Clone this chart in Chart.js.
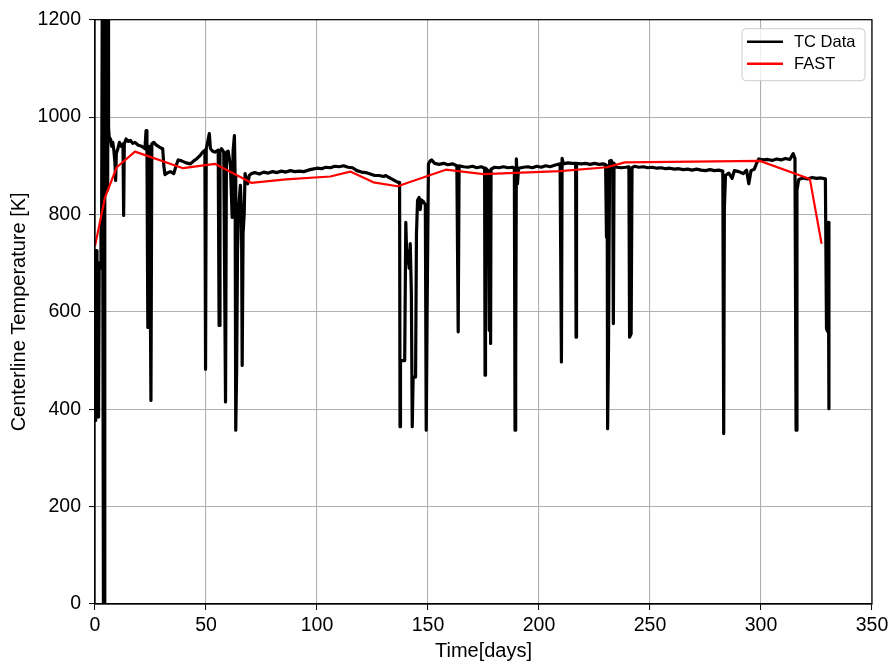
<!DOCTYPE html>
<html>
<head>
<meta charset="utf-8">
<script src="https://cdn.jsdelivr.net/npm/chart.js@4/dist/chart.umd.min.js"></script>
<style>
html,body{margin:0;padding:0;background:#fff;}
#wrap{width:893px;height:664px;}
</style>
</head>
<body>
<div id="wrap"><canvas id="c" width="893" height="664"></canvas></div>
<script>
const xTicks = [0, 50, 100, 150, 200, 250, 300, 350];
const yTicks = [0, 200, 400, 600, 800, 1000, 1200];

const tcDays = [0.0,0.3,0.6,0.9,1.2,1.6,1.9,2.3,2.7,3.0,3.3,3.6,3.8,4.2,4.4,4.8,5.1,5.4,5.7,5.9,6.1,6.4,7.0,7.5,8.0,8.5,9.0,9.3,9.6,10.3,11.0,11.8,12.6,12.9,13.2,14.0,15.0,16.0,17.0,18.0,19.5,21.0,22.5,23.0,23.4,23.8,24.1,24.5,25.2,25.6,26.5,27.5,28.5,29.5,30.5,31.0,31.5,32.5,34.0,35.5,36.5,37.5,39.0,41.0,43.0,44.5,46.0,47.5,48.5,49.5,49.8,50.1,50.8,51.5,52.0,53.0,54.0,55.5,55.9,56.3,57.0,58.0,58.8,59.2,60.0,61.0,61.8,62.2,62.8,63.1,63.4,63.8,64.2,64.8,65.5,66.0,66.3,66.7,67.2,67.6,68.3,68.8,69.5,70.5,72.0,74.0,76.0,78.0,80.0,82.0,84.0,86.0,88.0,90.0,92.0,94.0,96.0,98.0,100.0,102.0,104.0,106.0,108.0,110.0,112.0,114.0,116.0,118.0,120.0,122.0,124.0,126.0,128.0,130.0,131.0,132.0,134.0,136.5,137.2,137.4,137.6,139.5,140.0,140.5,141.0,141.5,142.0,142.5,142.9,143.3,144.4,144.8,145.3,146.0,146.5,147.0,148.0,148.8,149.2,149.6,150.2,151.0,151.6,153.0,155.0,157.0,159.0,161.0,163.0,163.6,164.0,166.0,168.0,170.0,172.0,174.0,175.5,175.7,175.9,177.0,177.6,178.0,178.2,178.4,180.0,182.0,184.0,186.0,188.0,188.9,189.2,189.5,189.8,190.3,190.8,193.0,195.0,197.0,199.0,201.0,203.0,205.0,207.0,209.5,210.1,210.4,211.0,213.0,215.0,216.5,216.7,216.9,219.0,221.0,223.0,225.0,227.0,229.0,230.0,230.4,230.7,230.9,231.3,231.8,232.5,233.2,233.5,233.8,235.0,237.0,239.0,240.5,240.8,241.5,241.9,243.0,245.0,247.0,249.0,251.0,253.0,255.0,257.0,259.0,261.0,263.0,265.0,267.0,269.0,271.0,273.0,275.0,277.0,279.0,281.0,282.8,283.2,283.5,284.0,285.5,287.0,288.0,290.0,292.0,293.5,294.5,295.5,297.0,298.0,299.0,301.0,303.0,305.0,307.0,309.0,311.0,313.0,314.5,315.3,315.8,316.2,317.0,319.0,321.0,323.0,325.0,327.0,329.0,329.5,330.0,330.3,330.6];
const tcTemps = [380,377,726,700,390,384,700,690,760,800,1300,1300,0,0,1300,1300,1090,1300,850,1300,980,958,955,940,948,932,905,870,925,935,948,940,945,798,945,955,950,952,946,948,942,940,935,972,935,568,930,940,418,945,948,943,940,937,935,900,882,885,888,884,900,912,910,906,904,910,915,922,928,932,482,935,950,966,935,930,928,932,572,930,935,928,415,928,930,900,794,930,962,880,357,480,726,820,860,800,490,761,800,884,870,863,880,884,886,883,887,885,888,886,889,887,890,888,889,888,891,893,895,894,897,896,899,898,900,897,896,890,887,886,883,880,880,878,880,877,872,866,866,364,500,500,784,700,725,690,740,640,364,466,466,760,829,835,810,830,826,820,357,600,904,910,912,905,903,905,902,904,900,559,900,898,897,899,896,898,895,470,895,890,562,890,535,893,897,896,898,896,897,895,357,487,914,863,895,897,898,896,899,897,900,898,901,904,497,915,904,906,905,905,548,905,904,905,903,905,903,904,902,753,900,360,525,910,911,905,576,905,897,896,897,898,548,555,896,899,897,898,896,897,895,896,894,895,893,894,892,893,891,893,891,890,892,890,891,889,350,812,880,885,874,890,888,884,891,863,890,893,905,914,912,913,911,914,912,915,913,925,915,357,850,872,875,873,876,874,875,873,565,560,784,401];

const fastDays = [0, 4.5, 9.8, 18, 39.7, 54, 70.4, 86, 106, 115, 125.4, 136.3, 158, 175, 209.5, 230.5, 238.7, 299.5, 322, 327.3];
const fastTemps = [735, 835, 897, 929, 895, 904, 865, 872, 878, 888, 866, 858, 892, 883, 889, 897, 907, 910, 873, 740];

const seriesNames = ['TC Data', 'FAST'];
const axisTitles = {x: 'Time[days]', y: 'Centerline Temperature [K]'};

const FONT = '"Liberation Sans", Arial, Helvetica, sans-serif';
Chart.defaults.font.family = FONT;
Chart.defaults.color = '#000';

const toPts = (xs, ys) => xs.map((x, i) => ({x: x, y: ys[i]}));

const framePlugin = {
  id: 'frame',
  afterDatasetsDraw(chart) {
    const {ctx, chartArea: a} = chart;
    ctx.save();
    ctx.strokeStyle = '#000';
    ctx.lineWidth = 1.2;
    ctx.strokeRect(a.left, a.top, a.right - a.left, a.bottom - a.top);
    // legend box
    const fs = 16.5;
    ctx.font = fs + 'px ' + FONT;
    const bw = 123, bh = 52;
    const bx = a.right - 7 - bw, by = a.top + 9;
    const r = 4;
    ctx.beginPath();
    ctx.moveTo(bx + r, by);
    ctx.lineTo(bx + bw - r, by);
    ctx.quadraticCurveTo(bx + bw, by, bx + bw, by + r);
    ctx.lineTo(bx + bw, by + bh - r);
    ctx.quadraticCurveTo(bx + bw, by + bh, bx + bw - r, by + bh);
    ctx.lineTo(bx + r, by + bh);
    ctx.quadraticCurveTo(bx, by + bh, bx, by + bh - r);
    ctx.lineTo(bx, by + r);
    ctx.quadraticCurveTo(bx, by, bx + r, by);
    ctx.closePath();
    ctx.fillStyle = 'rgba(255,255,255,0.8)';
    ctx.fill();
    ctx.strokeStyle = '#cccccc';
    ctx.lineWidth = 1;
    ctx.stroke();
    chart.data.datasets.forEach((ds, i) => {
      const ly = by + 13 + i * 22;
      ctx.strokeStyle = ds.borderColor;
      ctx.lineWidth = 2.5;
      ctx.beginPath();
      ctx.moveTo(bx + 5, ly);
      ctx.lineTo(bx + 41, ly);
      ctx.stroke();
      ctx.fillStyle = '#000';
      ctx.textBaseline = 'middle';
      ctx.textAlign = 'left';
      ctx.fillText(ds.label, bx + 52, ly + 1);
    });
    ctx.restore();
  }
};

new Chart(document.getElementById('c'), {
  type: 'line',
  data: {
    datasets: [
      {label: seriesNames[0], data: toPts(tcDays, tcTemps), borderColor: '#000000', backgroundColor: '#000000', borderWidth: 3.2, pointRadius: 0, tension: 0, borderJoinStyle: 'round', borderCapStyle: 'round', order: 2},
      {label: seriesNames[1], data: toPts(fastDays, fastTemps), borderColor: '#ff0000', backgroundColor: '#ff0000', borderWidth: 2.2, pointRadius: 0, tension: 0, borderJoinStyle: 'round', order: 1}
    ]
  },
  options: {
    responsive: false,
    animation: false,
    events: [],
    layout: {padding: {left: 0, right: 21, top: 19, bottom: 0}},
    plugins: {legend: {display: false}, tooltip: {enabled: false}},
    scales: {
      x: {
        type: 'linear', min: 0, max: 350,
        afterBuildTicks: (s) => { s.ticks = xTicks.map(v => ({value: v})); },
        afterFit: (s) => { s.height = 60; },
        ticks: {font: {size: 19.5}, padding: 4, maxRotation: 0, color: '#000', callback: (v) => String(v)},
        grid: {color: '#b0b0b0', lineWidth: 1.1, tickColor: '#000', tickLength: 6, tickWidth: 1},
        border: {display: true, color: '#000', width: 1.2},
        title: {display: true, text: axisTitles.x, font: {size: 20}, color: '#000', padding: {top: 0, bottom: 1}}
      },
      y: {
        type: 'linear', min: 0, max: 1200,
        afterBuildTicks: (s) => { s.ticks = yTicks.map(v => ({value: v})); },
        afterFit: (s) => { s.width = 95; },
        ticks: {font: {size: 19.5}, padding: 8, color: '#000', callback: (v) => String(v)},
        grid: {color: '#b0b0b0', lineWidth: 1.1, tickColor: '#000', tickLength: 6, tickWidth: 1},
        border: {display: true, color: '#000', width: 1.2},
        title: {display: true, text: axisTitles.y, font: {size: 20}, color: '#000', padding: {top: 7, bottom: 0}}
      }
    }
  },
  plugins: [framePlugin]
});
</script>
</body>
</html>
